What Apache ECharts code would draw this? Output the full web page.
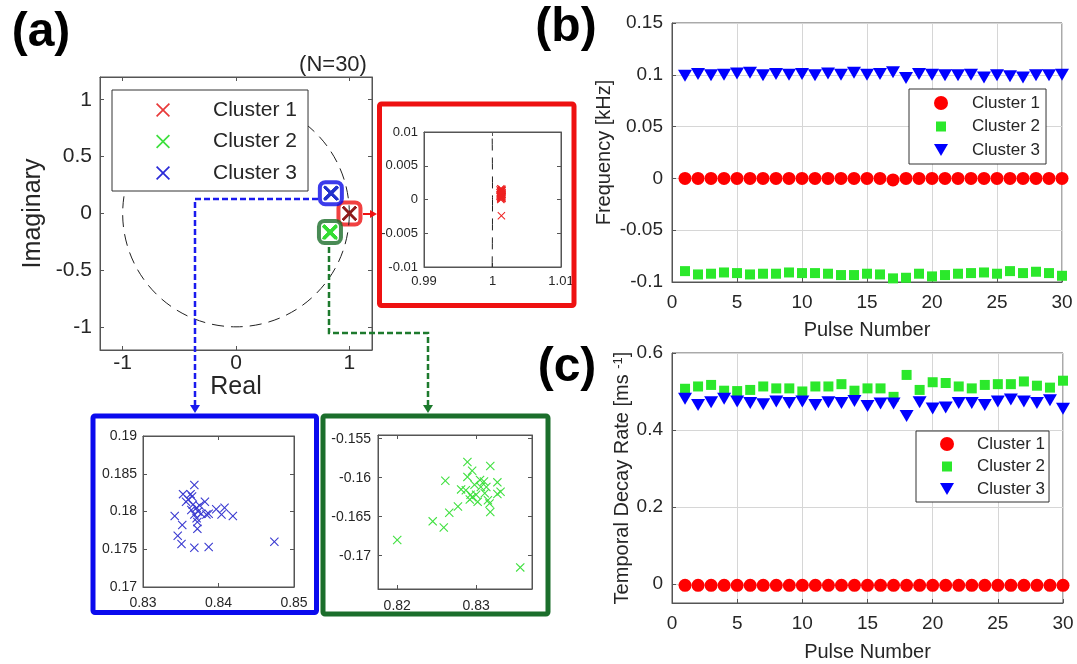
<!DOCTYPE html>
<html><head><meta charset="utf-8">
<script src="https://cdn.jsdelivr.net/npm/echarts@6/dist/echarts.min.js"></script>
<style>html,body{margin:0;padding:0;background:#fff}#c{width:1077px;height:664px}</style>
</head><body><div id="c"></div>
<script>
// ---------------- data ----------------
const clusterNames = ['Cluster 1', 'Cluster 2', 'Cluster 3'];
const pulses = [1,2,3,4,5,6,7,8,9,10,11,12,13,14,15,16,17,18,19,20,21,22,23,24,25,26,27,28,29,30];

const freqCluster1 = [0,0,0,0,0,0,0,0,0,0,0,0,0,0,0,0,-0.0015,0,0,0,0,0,0,0,0,0,0,0,0,0];
const freqCluster2 = [-0.0895,-0.0927,-0.092,-0.0908,-0.0914,-0.0927,-0.092,-0.092,-0.0908,-0.0914,-0.0914,-0.092,-0.0933,-0.0933,-0.092,-0.0927,-0.0965,-0.0959,-0.092,-0.0946,-0.0933,-0.092,-0.0914,-0.0908,-0.092,-0.0895,-0.0914,-0.0901,-0.0914,-0.094];
const freqCluster3 = [0.099,0.1008,0.0995,0.1,0.1013,0.102,0.0995,0.1008,0.1,0.1008,0.0995,0.1013,0.1,0.102,0.1,0.1008,0.1025,0.097,0.1008,0.1,0.0995,0.0995,0.1,0.0975,0.0995,0.0985,0.0975,0.0995,0.0995,0.1];

const decayCluster1 = [-0.004,-0.004,-0.004,-0.004,-0.004,-0.004,-0.004,-0.004,-0.004,-0.004,-0.004,-0.004,-0.004,-0.004,-0.004,-0.004,-0.004,-0.004,-0.004,-0.004,-0.004,-0.004,-0.004,-0.004,-0.004,-0.004,-0.004,-0.004,-0.004,-0.004];
const decayCluster2 = [0.507,0.513,0.517,0.502,0.501,0.504,0.513,0.508,0.508,0.500,0.513,0.513,0.519,0.502,0.508,0.508,0.486,0.543,0.504,0.524,0.522,0.513,0.508,0.517,0.519,0.519,0.526,0.515,0.510,0.528];
const decayCluster3 = [0.481,0.465,0.472,0.481,0.474,0.470,0.467,0.474,0.470,0.474,0.465,0.472,0.470,0.475,0.462,0.469,0.469,0.436,0.472,0.456,0.458,0.470,0.470,0.465,0.474,0.479,0.474,0.470,0.477,0.455];

// complex poles [real, imaginary]
const poleCluster1 = [[1.0012,0.0016],[1.0013,0.0015],[1.0014,0.0013],[1.0012,0.0012],[1.0013,0.0011],[1.0011,0.0010],[1.0014,0.0010],[1.0012,0.0009],[1.0013,0.0008],[1.0012,0.0007],[1.0014,0.0007],[1.0013,0.0006],[1.0011,0.0005],[1.0012,0.0004],[1.0014,0.0004],[1.0013,0.0003],[1.0012,0.0002],[1.0013,0.0001],[1.0014,0.0015],[1.0011,0.0014],[1.0013,0.0013],[1.0012,0.0011],[1.0013,0.0009],[1.0014,0.0008],[1.0011,0.0007],[1.0013,0.0005],[1.0012,0.0003],[1.0014,0.0002],[1.0012,0.0000],[1.0013,-0.0024]];
const poleCluster2 = [[0.8289,-0.1580],[0.8318,-0.1585],[0.8295,-0.1591],[0.8261,-0.1604],[0.8289,-0.1599],[0.8305,-0.1603],[0.8310,-0.1605],[0.8327,-0.1606],[0.8281,-0.1615],[0.8287,-0.1616],[0.8298,-0.1609],[0.8311,-0.1620],[0.8331,-0.1618],[0.8327,-0.1621],[0.8293,-0.1622],[0.8295,-0.1625],[0.8292,-0.1628],[0.8302,-0.1631],[0.8315,-0.1629],[0.8317,-0.1633],[0.8318,-0.1644],[0.8277,-0.1637],[0.8266,-0.1645],[0.8245,-0.1656],[0.8259,-0.1664],[0.8200,-0.1680],[0.8356,-0.1715],[0.8306,-0.1612],[0.8300,-0.1622],[0.8313,-0.1612]];
const poleCluster3 = [[0.8368,0.1835],[0.8353,0.1823],[0.8363,0.1823],[0.8357,0.1813],[0.8360,0.1816],[0.8366,0.1809],[0.8375,0.1808],[0.8382,0.1813],[0.8371,0.1805],[0.8364,0.1802],[0.8373,0.1800],[0.8368,0.1796],[0.8377,0.1797],[0.8384,0.1796],[0.8387,0.1797],[0.8397,0.1803],[0.8408,0.1805],[0.8404,0.1796],[0.8419,0.1794],[0.8342,0.1794],[0.8371,0.1791],[0.8372,0.1786],[0.8352,0.1782],[0.8346,0.1768],[0.8351,0.1757],[0.8368,0.1752],[0.8372,0.1777],[0.8387,0.1753],[0.8474,0.1760],[0.8365,0.1820]];

const boxCenters = [[1.0012,0.0008],[0.829,-0.162],[0.837,0.179]];
const unitCircle = [[0, 0, 1]]; // center x, center y, radius

const ticksMainX = [-1, 0, 1];
const ticksMainY = [-1, -0.5, 0, 0.5, 1];
const ticksRedX = [0.99, 1, 1.01];
const ticksRedY = [-0.01, -0.005, 0, 0.005, 0.01];
const ticksBlueX = [0.83, 0.84, 0.85];
const ticksBlueY = [0.17, 0.175, 0.18, 0.185, 0.19];
const ticksGreenX = [0.82, 0.83];
const ticksGreenY = [-0.17, -0.165, -0.16, -0.155];
const ticksDecayY = [0, 0.2, 0.4, 0.6];

// ---------------- styling ----------------
const FONT = '"Liberation Sans", Arial, Helvetica, sans-serif';
const TXT = '#262626', AX = '#555';
const XPATH = 'path://M0,1.2L1.2,0L7,5.8L12.8,0L14,1.2L8.2,7L14,12.8L12.8,14L7,8.2L1.2,14L0,12.8L5.8,7Z';
const TRI = 'path://M0,0L14,0L7,12Z';
const SQ_ICON = 'path://M0,0M14,14M2,2L12,2L12,12L2,12Z';
const C_RED = '#ff0000', C_GREEN = '#2be82b', C_BLUE = '#0000ff';

const grid = [
  {left:100, top:77, width:272, height:273, show:true, borderColor:AX, borderWidth:1, backgroundColor:'transparent'},
  {left:424, top:132, width:137, height:135, show:true, borderColor:AX, borderWidth:1, backgroundColor:'transparent'},
  {left:143, top:436, width:151, height:151, show:true, borderColor:AX, borderWidth:1, backgroundColor:'transparent'},
  {left:378, top:435, width:154, height:154, show:true, borderColor:AX, borderWidth:1, backgroundColor:'transparent'},
  {left:672, top:23, width:390, height:259, show:true, borderColor:AX, borderWidth:1, backgroundColor:'transparent'},
  {left:672, top:353, width:391, height:250, show:true, borderColor:AX, borderWidth:1, backgroundColor:'transparent'}
];

const xAxis = [], yAxis = [];
function mkAxis(gi, pos, min, max, ticks, fs, margin, show) {
  return {
    type:'value', gridIndex:gi, position:pos, min:min, max:max,
    axisLine:{show:true, onZero:false, lineStyle:{color:AX, width:1}},
    axisTick:{show:true, inside:true, length:4, customValues:ticks, lineStyle:{color:AX}},
    axisLabel:{show:show, customValues:ticks, fontSize:fs, color:TXT, fontFamily:FONT, margin:margin, hideOverlap:false},
    splitLine:{show:false}
  };
}
function boxAxes(gi, xr, yr, xt, yt, fs, mx, my) {
  const xi = xAxis.length, yi = yAxis.length;
  xAxis.push(mkAxis(gi,'bottom',xr[0],xr[1],xt,fs,mx,true));
  xAxis.push(mkAxis(gi,'top',xr[0],xr[1],xt,fs,mx,false));
  yAxis.push(mkAxis(gi,'left',yr[0],yr[1],yt,fs,my,true));
  yAxis.push(mkAxis(gi,'right',yr[0],yr[1],yt,fs,my,false));
  return {xi:xi, yi:yi};
}
const A = boxAxes(0, [-1.2,1.2], [-1.2,1.2], ticksMainX, ticksMainY, 21, 3, 8);
Object.assign(xAxis[A.xi], {name:'Real', nameLocation:'middle', nameGap:25, nameTextStyle:{fontSize:25, color:TXT, fontFamily:FONT}});
Object.assign(yAxis[A.yi], {name:'Imaginary', nameLocation:'middle', nameGap:54, nameRotate:90, nameTextStyle:{fontSize:25, color:TXT, fontFamily:FONT}});
const R = boxAxes(1, [0.99,1.01], [-0.01,0.01], ticksRedX, ticksRedY, 13, 8, 6);
const B = boxAxes(2, [0.83,0.85], [0.17,0.19], ticksBlueX, ticksBlueY, 14, 9, 6);
const G = boxAxes(3, [0.81756,0.83709], [-0.17427,-0.15453], ticksGreenX, ticksGreenY, 14, 10, 7);

function mkGridAxis(gi, pos, min, max, fs, margin, extra) {
  return Object.assign({
    type:'value', gridIndex:gi, position:pos, min:min, max:max,
    axisLine:{show:true, onZero:false, lineStyle:{color:AX, width:1}},
    axisTick:{show:true, inside:true, length:4, lineStyle:{color:AX}},
    axisLabel:{fontSize:fs, color:TXT, fontFamily:FONT, margin:margin, hideOverlap:false},
    splitLine:{show:true, lineStyle:{color:'#d6d6d6', width:1}}
  }, extra);
}
const bX = xAxis.length;
xAxis.push(mkGridAxis(4,'bottom',0,30,19,11,{interval:5, name:'Pulse Number', nameLocation:'middle', nameGap:38, nameTextStyle:{fontSize:20, color:TXT, fontFamily:FONT}}));
const bY = yAxis.length;
yAxis.push(mkGridAxis(4,'left',-0.1,0.15,19,9,{interval:0.05, name:'Frequency [kHz]', nameLocation:'middle', nameGap:58, nameRotate:90, nameTextStyle:{fontSize:20, color:TXT, fontFamily:FONT}}));
const cX = xAxis.length;
xAxis.push(mkGridAxis(5,'bottom',0,30,19,11,{interval:5, name:'Pulse Number', nameLocation:'middle', nameGap:39, nameTextStyle:{fontSize:20, color:TXT, fontFamily:FONT}}));
const cY = yAxis.length;
const cYAxis = mkGridAxis(5,'left',-0.05,0.6,19,9,{name:'{t|Temporal Decay Rate [ms }{s|-1}{t|]}', nameLocation:'middle', nameGap:40, nameRotate:90,
  nameTextStyle:{color:TXT, fontFamily:FONT, rich:{t:{fontSize:20, color:TXT, fontFamily:FONT}, s:{fontSize:13, color:TXT, fontFamily:FONT, verticalAlign:'top'}}}});
cYAxis.axisTick.customValues = ticksDecayY;
cYAxis.axisLabel.customValues = ticksDecayY;
yAxis.push(cYAxis);

// ---------------- series ----------------
function circleSeries(ax) {
  return {
    type:'custom', name:'unit circle', xAxisIndex:ax.xi, yAxisIndex:ax.yi, data:unitCircle, clip:true, z:3, silent:true,
    renderItem:function(params, api){
      const c = api.coord([api.value(0), api.value(1)]);
      const e = api.coord([api.value(0) + api.value(2), api.value(1)]);
      const r = Math.abs(e[0] - c[0]);
      return {type:'circle', shape:{cx:c[0], cy:c[1], r:r}, style:{fill:'none', stroke:'#222', lineWidth:1, lineDash:[12,7]}};
    }
  };
}
function xSeries(name, ax, data, color, size, z) {
  return {type:'scatter', name:name, xAxisIndex:ax.xi, yAxisIndex:ax.yi, data:data, symbol:XPATH, symbolSize:size,
    itemStyle:{color:color, opacity:1}, z:z||4, silent:true};
}
function pulseSeries(name, xi, yi, vals, symbol, size, color) {
  return {type:'scatter', name:name, xAxisIndex:xi, yAxisIndex:yi, data:pulses.map(function(p,i){return [p, vals[i]];}),
    symbol:symbol, symbolSize:size, itemStyle:{color:color, opacity:1}, silent:true, z:4};
}
const boxColors = ['#ee1111', '#1b6e2b', '#0a0ae6'];

const series = [
  xSeries(clusterNames[0], A, poleCluster1, '#8e1c1c', 14, 5),
  xSeries(clusterNames[1], A, poleCluster2, '#33dd33', 14, 5),
  xSeries(clusterNames[2], A, poleCluster3, '#2233cc', 14, 5),
  {type:'scatter', name:'zoom boxes', xAxisIndex:A.xi, yAxisIndex:A.yi, silent:true, z:2, symbol:'roundRect', symbolSize:22,
    data:boxCenters.map(function(p,i){return {value:p, itemStyle:{color:'#fff', borderColor:boxColors[i], borderWidth:4}};})},
  circleSeries(A),
  circleSeries(R),
  xSeries(clusterNames[0], R, poleCluster1, '#ee2222', 8),
  xSeries(clusterNames[2], B, poleCluster3, '#3a3ad0', 9),
  xSeries(clusterNames[1], G, poleCluster2, '#40e040', 9),
  pulseSeries(clusterNames[0], bX, bY, freqCluster1, 'circle', 13, C_RED),
  pulseSeries(clusterNames[1], bX, bY, freqCluster2, 'rect', 10, C_GREEN),
  pulseSeries(clusterNames[2], bX, bY, freqCluster3, TRI, [14,12], C_BLUE),
  pulseSeries(clusterNames[0], cX, cY, decayCluster1, 'circle', 13, C_RED),
  pulseSeries(clusterNames[1], cX, cY, decayCluster2, 'rect', 10, C_GREEN),
  pulseSeries(clusterNames[2], cX, cY, decayCluster3, TRI, [14,12], C_BLUE)
];

// ---------------- legends ----------------
function legendBase(o) {
  return Object.assign({orient:'vertical', selectedMode:false, backgroundColor:'#fff', borderColor:'#333', borderWidth:1, borderRadius:0, z:10}, o);
}
const legend = [
  legendBase({left:112, top:90, padding:[8,11,6,44], itemWidth:14, itemHeight:14, itemGap:7.5,
    textStyle:{fontSize:21, lineHeight:24, color:TXT, fontFamily:FONT, padding:[0,0,0,38]},
    data:[{name:clusterNames[0], icon:XPATH, itemStyle:{color:'#e83a3a'}},{name:clusterNames[1], icon:XPATH, itemStyle:{color:'#3ee03e'}},{name:clusterNames[2], icon:XPATH, itemStyle:{color:'#2a2ad8'}}]}),
  legendBase({left:909, top:89, padding:[4,6,4,25], itemWidth:14, itemHeight:14, itemGap:3.5,
    textStyle:{fontSize:17, lineHeight:20, color:TXT, fontFamily:FONT, padding:[0,0,0,19]},
    data:[{name:clusterNames[0], icon:'circle', itemStyle:{color:C_RED}},{name:clusterNames[1], icon:SQ_ICON, itemStyle:{color:C_GREEN}},{name:clusterNames[2], icon:TRI, itemStyle:{color:C_BLUE}}]}),
  legendBase({left:916, top:431, padding:[3,4,3,24], itemWidth:14, itemHeight:14, itemGap:2.5,
    textStyle:{fontSize:17, lineHeight:20, color:TXT, fontFamily:FONT, padding:[0,0,0,18]},
    data:[{name:clusterNames[0], icon:'circle', itemStyle:{color:C_RED}},{name:clusterNames[1], icon:SQ_ICON, itemStyle:{color:C_GREEN}},{name:clusterNames[2], icon:TRI, itemStyle:{color:C_BLUE}}]})
];

// ---------------- annotations ----------------
const FT = 416; // inset frame top
function txt(x, y, t, font) {
  return {type:'text', x:x, y:y, silent:true, z:20, style:{text:t, font:font, fill:'#000', align:'center', verticalAlign:'middle', textAlign:'center', textVerticalAlign:'middle'}};
}
const graphic = [
  txt(41, 33, '(a)', 'bold 48px ' + FONT),
  txt(566, 28, '(b)', 'bold 48px ' + FONT),
  txt(567, 368, '(c)', 'bold 48px ' + FONT),
  {type:'text', x:333, y:65, silent:true, z:20, style:{text:'(N=30)', font:'22px ' + FONT, fill:TXT, align:'center', verticalAlign:'middle', textAlign:'center', textVerticalAlign:'middle'}},
  {type:'rect', silent:true, z:20, shape:{x:379.5, y:104, width:194.5, height:201.5, r:2}, style:{fill:'none', stroke:'#ee1111', lineWidth:5}},
  {type:'rect', silent:true, z:20, shape:{x:93, y:FT, width:223.5, height:612.5-FT, r:2}, style:{fill:'none', stroke:'#0a0aee', lineWidth:5}},
  {type:'rect', silent:true, z:20, shape:{x:323, y:FT, width:225, height:614-FT, r:2}, style:{fill:'none', stroke:'#1b6e2b', lineWidth:5}},
  {type:'line', silent:true, z:20, shape:{x1:363, y1:214, x2:371, y2:214}, style:{stroke:'#ee1111', lineWidth:2}},
  {type:'polygon', silent:true, z:20, shape:{points:[[370,210],[370,218],[377,214]]}, style:{fill:'#ee1111'}},
  {type:'polyline', silent:true, z:20, shape:{points:[[318,199],[195,199],[195,FT-10]]}, style:{fill:'none', stroke:'#1a1aee', lineWidth:2.5, lineDash:[6,3]}},
  {type:'polygon', silent:true, z:20, shape:{points:[[190,FT-11],[200,FT-11],[195,FT-3]]}, style:{fill:'#1a1aee'}},
  {type:'polyline', silent:true, z:20, shape:{points:[[329,247],[329,333],[428,333],[428,FT-10]]}, style:{fill:'none', stroke:'#1d7a2d', lineWidth:2.5, lineDash:[6,3]}},
  {type:'polygon', silent:true, z:20, shape:{points:[[423,FT-11],[433,FT-11],[428,FT-3]]}, style:{fill:'#1d7a2d'}}
];

const chart = echarts.init(document.getElementById('c'), null, {renderer:'canvas'});
chart.setOption({
  animation:false,
  backgroundColor:'#fff',
  textStyle:{fontFamily:FONT},
  grid:grid, xAxis:xAxis, yAxis:yAxis, series:series, legend:legend, graphic:graphic
});
</script></body></html>
